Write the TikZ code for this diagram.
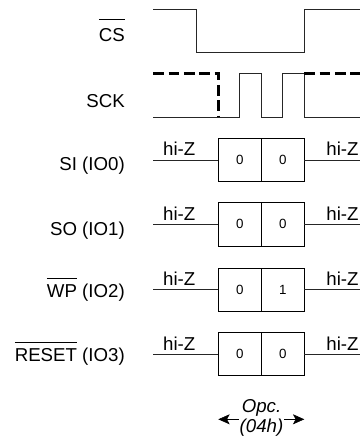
\documentclass[tikz,border=0pt]{standalone}
\usepackage{fontspec}
\setmainfont{Liberation Sans}
\usetikzlibrary{arrows.meta}
% overbar with a gap above the letters
\newcommand{\ovl}[2][4.5pt]{\leavevmode\vbox{\hrule height 0.75pt\kern#1\hbox{#2}}}
\begin{document}
\begin{tikzpicture}[x=0.75pt,y=-0.75pt,
    wave/.style={line width=0.75pt,black!85},
    clkdash/.style={line width=2pt,dash pattern=on 8pt off 3.5pt},
    sig/.style={font=\fontsize{14}{16}\selectfont,anchor=base east,inner sep=0pt},
    hiz/.style={font=\fontsize{14}{16}\selectfont,anchor=base,inner sep=0pt},
    cell/.style={draw,line width=0.75pt,minimum width=32.25pt,minimum height=32.5pt,
        inner sep=0pt,outer sep=0pt,font=\fontsize{10}{12}\selectfont}]
    \useasboundingbox (0,0) rectangle (360,443);

    % CS
    \node[sig] (cs) at (125,41.7) {\ovl[6.5pt]{CS}};
    \draw[wave] (153.3,9.3) -- (196.3,9.3) -- (196.3,52.3) -- (304.3,52.3)
        -- (304.3,9.3) -- (360,9.3);

    % SCK
    \node[sig] (sck) at (125,107.3) {SCK};
    \draw[wave] (153.3,117.3) -- (239.7,117.3) -- (239.7,73.3) -- (261.3,73.3)
        -- (261.3,117.3) -- (282.3,117.3) -- (282.3,73.3) -- (304.3,73.3)
        -- (304.3,117.3) -- (360,117.3);
    \draw[clkdash] (153.3,73.3) -- (218.3,73.3) -- (218.3,117.3);
    \draw[clkdash] (304.3,73.3) -- (360,73.3);

    % IO lines
    \foreach \i/\y/\ly/\lab/\a/\b in {1/160/170/{SI (IO0)}/0/0,
                                      2/224.4/235/{SO (IO1)}/0/0,
                                      3/289.7/297.7/{\ovl{WP} (IO2)}/0/1,
                                      4/354.3/361.7/{\ovl{RESET} (IO3)}/0/0} {
        \node[sig] (lab\i) at (125,\ly) {\lab};
        \node[cell] (a\i) at (239.8,\y) {\a};
        \node[cell,anchor=west] (b\i) at (a\i.east) {\b};
        \coordinate (l\i) at (153.3,\y);
        \coordinate (r\i) at (360,\y);
        \draw[wave] (l\i) -- (a\i.west);
        \draw[wave] (b\i.east) -- (r\i);
        \node[hiz] (hl\i) at (179.2,\y-4.2) {hi-Z};
        \node[hiz] (hr\i) at (342.5,\y-4.2) {hi-Z};
    }

    % opcode width
    \node[font=\fontsize{14}{15}\selectfont\itshape,align=center,inner sep=0.5pt]
        (opc) at (261.5,418.3) {Opc.\\(04h)};
    \coordinate (opcl) at (218.3,419.3);
    \coordinate (opcr) at (304.3,419.3);
    \draw[-{Stealth[length=8.5pt,width=7.5pt,inset=2pt]}] (opc.west |- opcl) -- (opcl);
    \draw[-{Stealth[length=8.5pt,width=7.5pt,inset=2pt]}] (opc.east |- opcr) -- (opcr);
\end{tikzpicture}
\end{document}
